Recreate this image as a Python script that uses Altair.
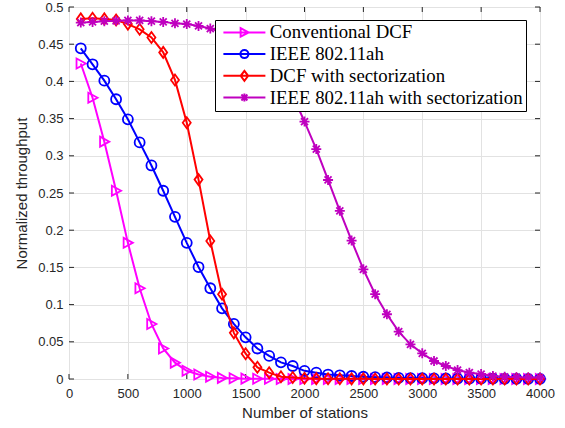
import altair as alt
import pandas as pd

stations = list(range(100, 4001, 100))

conv_dcf = [0.424, 0.378, 0.319, 0.253, 0.183, 0.122, 0.074, 0.041, 0.022, 0.011,
            0.006, 0.003, 0.0015, 0.001, 0.0005, 0.0003, 0.0002, 0.0001, 0.0, 0.0,
            0.0, 0.0, 0.0, 0.0, 0.0, 0.0, 0.0, 0.0, 0.0, 0.0,
            0.0, 0.0, 0.0, 0.0, 0.0, 0.0, 0.0, 0.0, 0.0, 0.0]
ieee_ah = [0.4445, 0.423, 0.401, 0.376, 0.349, 0.318, 0.287, 0.253, 0.218, 0.183,
           0.1505, 0.122, 0.095, 0.074, 0.056, 0.041, 0.031, 0.0224, 0.0175, 0.011,
           0.0085, 0.006, 0.005, 0.004, 0.003, 0.0025, 0.002, 0.0015, 0.0012, 0.001,
           0.0008, 0.0007, 0.0006, 0.0005, 0.0004, 0.0004, 0.0003, 0.0003, 0.0002, 0.0002]
dcf_sect = [0.484, 0.485, 0.484, 0.4825, 0.477, 0.470, 0.459, 0.439, 0.402, 0.3445,
            0.268, 0.1855, 0.114, 0.062, 0.034, 0.0157, 0.0085, 0.003, 0.002, 0.001,
            0.0005, 0.0004, 0.0003, 0.0002, 0.0002, 0.0001, 0.0001, 0.0001, 0.0, 0.0,
            0.0, 0.0, 0.0, 0.0, 0.0, 0.0, 0.0, 0.0, 0.0, 0.0]
ieee_ah_sect = [0.479, 0.480, 0.481, 0.4815, 0.482, 0.482, 0.481, 0.480, 0.478, 0.477,
                0.4745, 0.471, 0.466, 0.460, 0.452, 0.441, 0.426, 0.407, 0.381, 0.346,
                0.309, 0.2675, 0.226, 0.186, 0.1474, 0.114, 0.087, 0.0636, 0.0466, 0.0345,
                0.0242, 0.0175, 0.012, 0.0085, 0.0067, 0.004, 0.003, 0.0025, 0.002, 0.002]

series_names = ["Conventional DCF", "IEEE 802.11ah", "DCF with sectorization",
                "IEEE 802.11ah with sectorization"]
series_values = [conv_dcf, ieee_ah, dcf_sect, ieee_ah_sect]
series_colors = ["#ff00ff", "#0000ff", "#ff0000", "#bf00bf"]

x_ticks = [0, 500, 1000, 1500, 2000, 2500, 3000, 3500, 4000]
y_ticks = [0, 0.05, 0.1, 0.15, 0.2, 0.25, 0.3, 0.35, 0.4, 0.45, 0.5]

marker_paths = [
    "M-0.85,-1L1,0L-0.85,1Z",
    "circle",
    "M0,-1.1L0.8,0L0,1.1L-0.8,0Z",
    "M-1,0L1,0M0,-1L0,1M-0.7,-0.7L0.7,0.7M-0.7,0.7L0.7,-0.7",
]
legend_paths = [
    "M-4.2,0L4.2,0M-0.75,-0.85L0.85,0L-0.75,0.85Z",
    "M-4.2,0L4.2,0M0.8,0A0.8,0.8,0,1,1,-0.8,0A0.8,0.8,0,1,1,0.8,0",
    "M-4.2,0L4.2,0M0,-1L0.75,0L0,1L-0.75,0Z",
    "M-4.2,0L4.2,0M0,-0.8L0,0.8M-0.6,-0.6L0.6,0.6M-0.6,0.6L0.6,-0.6",
]

rows = []
for name, vals in zip(series_names, series_values):
    for s, v in zip(stations, vals):
        rows.append({"series": name, "stations": s, "value": v})
df = pd.DataFrame(rows)
xt_df = pd.DataFrame({"stations": x_ticks})
yt_df = pd.DataFrame({"value": y_ticks})

W, H = 471, 372
TICK = 5
FRAME = "#262626"
xscale = alt.Scale(domain=[0, 4000], nice=False, zero=False)
yscale = alt.Scale(domain=[0, 0.5], nice=False)

X = alt.X("stations:Q", scale=xscale,
          axis=alt.Axis(values=x_ticks, title="Number of stations", format="d",
                        grid=True, ticks=False, domain=False,
                        labelPadding=8, labelFlush=False, titlePadding=5))
Y = alt.Y("value:Q", scale=yscale,
          axis=alt.Axis(values=y_ticks, title="Normalized throughput", format="~g",
                        grid=True, ticks=False, domain=False,
                        labelPadding=6, labelFlush=False, titlePadding=8))

layers = []

# inward tick marks on all four sides of the box (MATLAB style)
layers.append(alt.Chart(xt_df).mark_rule(color=FRAME, strokeWidth=1).encode(
    x=X, y=alt.value(H), y2=alt.value(H - TICK)))
layers.append(alt.Chart(xt_df).mark_rule(color=FRAME, strokeWidth=1).encode(
    x=X, y=alt.value(0), y2=alt.value(TICK)))
layers.append(alt.Chart(yt_df).mark_rule(color=FRAME, strokeWidth=1).encode(
    y=Y, x=alt.value(0), x2=alt.value(TICK)))
layers.append(alt.Chart(yt_df).mark_rule(color=FRAME, strokeWidth=1).encode(
    y=Y, x=alt.value(W), x2=alt.value(W - TICK)))

for name, color, path in zip(series_names, series_colors, marker_paths):
    base = alt.Chart(df).transform_filter(alt.datum.series == name)
    layers.append(base.mark_line(color=color, strokeWidth=2).encode(x=X, y=Y))
    layers.append(base.mark_point(shape=path, size=100, color=color, filled=False,
                                  strokeWidth=1.8, opacity=1).encode(x=X, y=Y))

legend_layer = alt.Chart(df).transform_filter("false").mark_point(
    filled=False, opacity=1, size=100, strokeWidth=2
).encode(
    x=X, y=Y,
    color=alt.Color("series:N", scale=alt.Scale(domain=series_names, range=series_colors),
                    legend=alt.Legend(title=None)),
    shape=alt.Shape("series:N", scale=alt.Scale(domain=series_names, range=legend_paths),
                    legend=alt.Legend(title=None)),
)
layers.append(legend_layer)

chart = alt.layer(*layers).properties(
    width=W, height=H,
    autosize=alt.AutoSizeParams(type="none"),
    padding={"left": 69, "top": 7, "right": 25, "bottom": 49},
    background="white",
).configure_view(
    stroke=FRAME, strokeWidth=1
).configure_axis(
    labelFont="Liberation Sans", labelFontSize=13, labelColor="#262626",
    titleFont="Liberation Sans", titleFontSize=15, titleColor="#262626",
    titleFontWeight="normal", gridColor="#e2e2e2", gridWidth=1,
).configure_legend(
    orient="none", legendX=146, legendY=13, padding=3, symbolOffset=17,
    strokeColor="black", fillColor="white", symbolSize=100, symbolStrokeWidth=2,
    labelFont="Liberation Serif", labelFontSize=18.8, labelColor="black",
    labelLimit=400, labelOffset=16, rowPadding=1.7, cornerRadius=0,
)

chart.save("out.html", embed_options={"renderer": "svg", "actions": False})
